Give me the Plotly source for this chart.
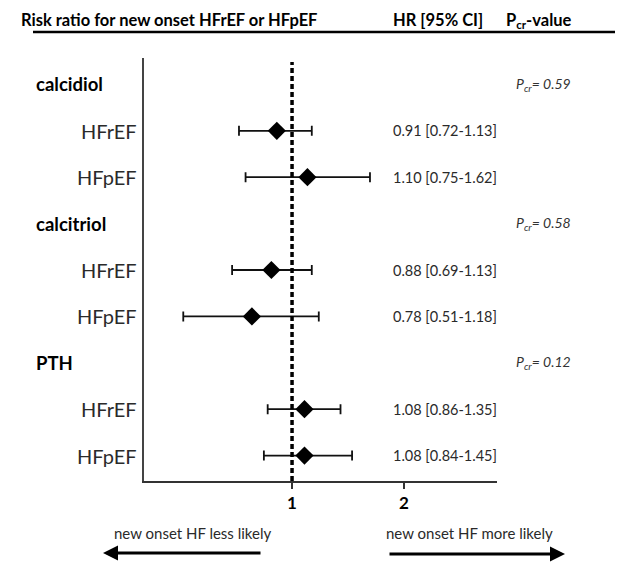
import plotly.graph_objects as go

# ---- data ----
groups = ["calcidiol", "calcitriol", "PTH"]
subgroups = ["HFrEF", "HFpEF"]
hr = [0.91, 1.10, 0.88, 0.78, 1.08, 1.08]
ci_low = [0.72, 0.75, 0.69, 0.51, 0.86, 0.84]
ci_high = [1.13, 1.62, 1.13, 1.18, 1.35, 1.45]
p_cr = ["0.59", "0.58", "0.12"]
x_ticks = [1, 2]

W, H = 623, 581
OFF = 8                          # default page body margin
L, R, T, B = 144, 497, 58, 481   # plot area in window pixels


def px(x):
    return (x - L) / (R - L)


def py(y):
    return (B - y) / (B - T)


# row layout: group header, then subgroup rows
row_label = []
sub_y = []
grp_y = []
r = 0
for g in groups:
    grp_y.append(r)
    r += 1
    for s in subgroups:
        sub_y.append(r)
        row_label.append(s)
        r += 1
n_rows = r
y_top = -0.569
y_bot = n_rows - 1 + 0.547

FONT = "Lato"

fig = go.Figure()
fig.add_trace(go.Scatter(
    x=hr, y=sub_y, mode="markers",
    marker=dict(symbol="diamond", size=14, color="black"),
    error_x=dict(type="data", symmetric=False,
                 array=[h - m for h, m in zip(ci_high, hr)],
                 arrayminus=[m - l for m, l in zip(hr, ci_low)],
                 color="#111", thickness=1.8, width=5),
    showlegend=False, hoverinfo="skip",
))

ann = []
for g, y in zip(groups, grp_y):
    ann.append(dict(x=px(34), xref="paper", y=y, yref="y", text=g, showarrow=False,
                    xanchor="left", yanchor="middle",
                    font=dict(family=FONT, size=18.5, color="black", weight="bold")))
for i, y in enumerate(sub_y):
    ann.append(dict(x=px(139), xref="paper", y=y, yref="y", text=row_label[i], showarrow=False,
                    xanchor="right", yanchor="middle", font=dict(family=FONT, size=20, color="#2a2a2a")))
    ann.append(dict(x=px(391), xref="paper", y=y, yref="y",
                    text=f"{hr[i]:.2f} [{ci_low[i]:.2f}-{ci_high[i]:.2f}]", showarrow=False,
                    xanchor="left", yanchor="middle", font=dict(family=FONT, size=14.5, color="#2a2a2a")))
for p, y in zip(p_cr, grp_y):
    ann.append(dict(x=px(514), xref="paper", y=y, yref="y",
                    text=f"<i>P<sub>cr</sub>= {p}</i>", showarrow=False,
                    xanchor="left", yanchor="middle", font=dict(family=FONT, size=14, color="#333")))
hdr = dict(family=FONT, size=16.5, color="black", weight="bold")
ann.append(dict(x=px(19), xref="paper", y=py(20), yref="paper", text="Risk ratio for new onset HFrEF or HFpEF",
                showarrow=False, xanchor="left", yanchor="middle", font=hdr))
ann.append(dict(x=px(391), xref="paper", y=py(20), yref="paper", text="HR [95% CI]",
                showarrow=False, xanchor="left", yanchor="middle", font=hdr))
ann.append(dict(x=px(504), xref="paper", y=py(20), yref="paper", text="P<sub>cr</sub>-value",
                showarrow=False, xanchor="left", yanchor="middle", font=hdr))
ann.append(dict(x=px(192), xref="paper", y=py(533), yref="paper", text="new onset HF less likely",
                showarrow=False, xanchor="center", yanchor="middle",
                font=dict(family=FONT, size=15, color="#2a2a2a")))
ann.append(dict(x=px(469), xref="paper", y=py(533), yref="paper", text="new onset HF more likely",
                showarrow=False, xanchor="center", yanchor="middle",
                font=dict(family=FONT, size=15, color="#2a2a2a")))
ann.append(dict(x=px(103), xref="paper", y=py(553), yref="paper", ax=159, ay=0, text="",
                showarrow=True, arrowhead=2, arrowsize=1, arrowwidth=3, arrowcolor="black"))
ann.append(dict(x=px(565), xref="paper", y=py(554), yref="paper", ax=-177, ay=0, text="",
                showarrow=True, arrowhead=2, arrowsize=1, arrowwidth=3, arrowcolor="black"))

shapes = [
    dict(type="line", xref="x", yref="paper", x0=1, x1=1, y0=0, y1=py(62),
         line=dict(color="black", width=3.5, dash="5px,3px")),
    dict(type="line", xref="paper", yref="paper", x0=px(33), x1=px(630), y0=py(32), y1=py(32),
         line=dict(color="black", width=2.5)),
]

fig.update_layout(
    width=W - OFF, height=H - OFF,
    margin=dict(l=L - OFF, r=W - R, t=T - OFF, b=H - B, pad=0),
    plot_bgcolor="white", paper_bgcolor="white",
    annotations=ann, shapes=shapes,
    xaxis=dict(type="log", range=[-0.398, 0.551], tickvals=x_ticks, ticktext=[str(t) for t in x_ticks],
               showgrid=False, zeroline=False, showline=True, linecolor="#333", linewidth=2,
               ticks="outside", ticklen=6, tickwidth=2, tickcolor="#333",
               tickfont=dict(family=FONT, size=17, color="black", weight="bold")),
    yaxis=dict(range=[y_bot, y_top], showgrid=False, zeroline=False,
               showline=True, linecolor="#444", linewidth=2, showticklabels=False, ticks=""),
)

fig.write_html("out.html")
